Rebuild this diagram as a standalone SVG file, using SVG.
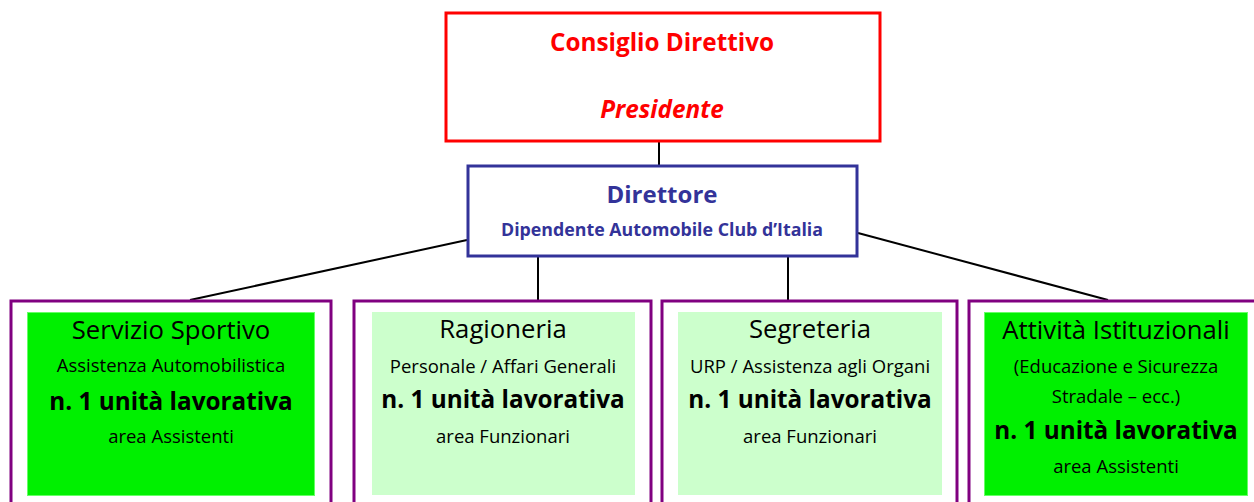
<svg xmlns="http://www.w3.org/2000/svg" width="1254" height="502" viewBox="0 0 1254 502">
<style>
text{font-family:"Open Sans",Lato,"Liberation Sans",sans-serif;text-anchor:middle;fill:#000}
.top{fill:#FF0000;font-weight:bold;font-size:24.3px}
.dir{fill:#333399;font-weight:bold}
.outer{fill:#fff;stroke:#800080;stroke-width:3}
.t1{font-size:25.7px}
.t2{font-size:18.5px}
.t3{font-size:24.3px;font-weight:bold}
.dark{fill:#00F000;stroke:#66FF66;stroke-width:1}
.light{fill:#CCFFCC}
.conn line{stroke:#000;stroke-width:2}
</style>
<g id="connectors" class="conn">
<line x1="659" y1="141" x2="659" y2="165"/>
<line x1="467" y1="240" x2="190" y2="300"/>
<line x1="538" y1="257" x2="538" y2="300"/>
<line x1="788" y1="257" x2="788" y2="300"/>
<line x1="858" y1="233" x2="1108" y2="300"/>
</g>
<g id="consiglio">
<rect x="446" y="13" width="434" height="128" fill="#fff" stroke="#FF0000" stroke-width="3"/>
<text class="top" x="662" y="51">Consiglio Direttivo</text>
<text class="top" x="662" y="118" font-style="italic" font-size="27">Presidente</text>
</g>
<g id="direttore">
<rect x="468" y="166" width="389" height="90" fill="#fff" stroke="#333399" stroke-width="3"/>
<text class="dir" x="662" y="203" font-size="24">Direttore</text>
<text class="dir" x="662" y="236" font-size="17.8">Dipendente Automobile Club d’Italia</text>
</g>
<g id="servizio">
<rect class="outer" x="11" y="301" width="320" height="210"/>
<rect class="dark" x="27.5" y="312.5" width="287" height="183"/>
<text class="t1" x="171" y="339">Servizio Sportivo</text>
<text class="t2" x="171" y="372">Assistenza Automobilistica</text>
<text class="t3" x="171" y="410">n. 1 unità lavorativa</text>
<text class="t2" x="171" y="443">area Assistenti</text>
</g>
<g id="ragioneria">
<rect class="outer" x="354" y="301" width="297" height="210"/>
<rect class="light" x="372" y="312" width="263" height="183"/>
<text class="t1" x="503" y="338">Ragioneria</text>
<text class="t2" x="503" y="373">Personale / Affari Generali</text>
<text class="t3" x="503" y="408">n. 1 unità lavorativa</text>
<text class="t2" x="503" y="443">area Funzionari</text>
</g>
<g id="segreteria">
<rect class="outer" x="662" y="301" width="295" height="210"/>
<rect class="light" x="678" y="312" width="264" height="183"/>
<text class="t1" x="810" y="338">Segreteria</text>
<text class="t2" x="810" y="373">URP / Assistenza agli Organi</text>
<text class="t3" x="810" y="408">n. 1 unità lavorativa</text>
<text class="t2" x="810" y="443">area Funzionari</text>
</g>
<g id="attivita">
<rect class="outer" x="969" y="301" width="290" height="210"/>
<rect class="dark" x="984.5" y="312.5" width="263" height="183"/>
<text class="t1" x="1116" y="339">Attività Istituzionali</text>
<text class="t2" x="1116" y="373">(Educazione e Sicurezza</text>
<text class="t2" x="1116" y="403">Stradale – ecc.)</text>
<text class="t3" x="1116" y="439">n. 1 unità lavorativa</text>
<text class="t2" x="1116" y="473">area Assistenti</text>
</g>
</svg>
